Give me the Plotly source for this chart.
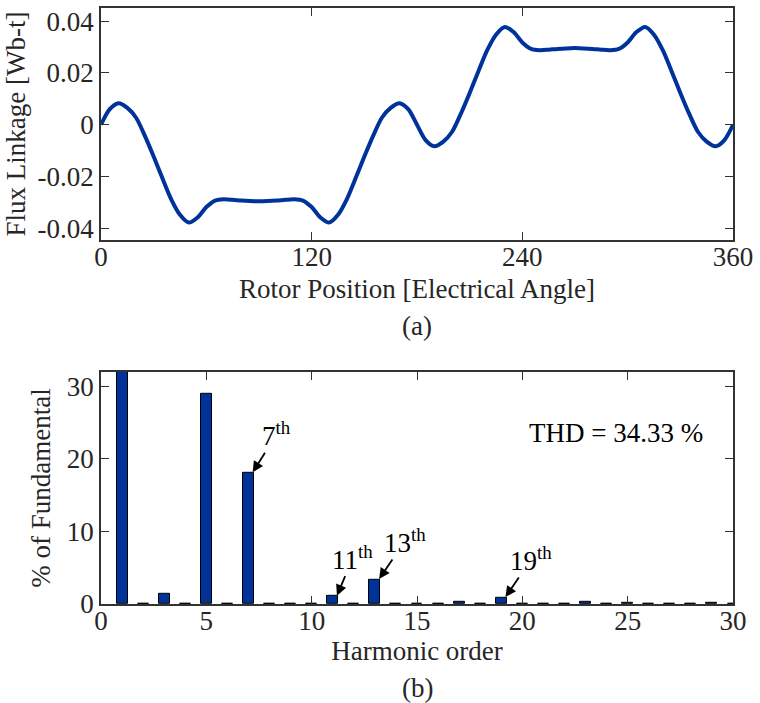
import plotly.graph_objects as go

# ---- (a) flux linkage vs rotor position ----
angle_deg = [0, 5, 10, 15, 20, 25, 30, 35, 40, 45, 50, 55, 60, 65, 70, 75, 80, 85, 90,
             95, 100, 105, 110, 115, 120, 125, 130, 135, 140, 145, 150, 155, 160, 165, 170, 175, 180,
             185, 190, 195, 200, 205, 210, 215, 220, 225, 230, 235, 240, 245, 250, 255, 260, 265, 270,
             275, 280, 285, 290, 295, 300, 305, 310, 315, 320, 325, 330, 335, 340, 345, 350, 355, 360]
flux_wb = [0.0, 0.0060, 0.0083, 0.0065, 0.0027, -0.0043, -0.0123, -0.0207, -0.0288, -0.0348,
           -0.0378, -0.0358, -0.0318, -0.0293, -0.0288, -0.0290, -0.0293, -0.0295, -0.0296,
           -0.0295, -0.0293, -0.0290, -0.0288, -0.0293, -0.0318, -0.0358, -0.0378, -0.0348,
           -0.0288, -0.0207, -0.0123, -0.0043, 0.0027, 0.0065, 0.0083, 0.0060, 0.0,
           -0.0060, -0.0083, -0.0065, -0.0027, 0.0043, 0.0123, 0.0207, 0.0288, 0.0348,
           0.0378, 0.0358, 0.0318, 0.0293, 0.0288, 0.0290, 0.0293, 0.0295, 0.0296,
           0.0295, 0.0293, 0.0290, 0.0288, 0.0293, 0.0318, 0.0358, 0.0378, 0.0348,
           0.0288, 0.0207, 0.0123, 0.0043, -0.0027, -0.0065, -0.0083, -0.0060, 0.0]
angle_ticks = [0, 120, 240, 360]
flux_ticks = [-0.04, -0.02, 0, 0.02, 0.04]
flux_tick_text = ["-0.04", "-0.02", "0", "0.02", "0.04"]

# ---- (b) harmonic spectrum ----
harmonic_order = list(range(1, 31))
percent_fundamental = [100, 0.03, 1.4, 0.03, 29.0, 0.03, 18.1, 0.03, 0.03, 0.03,
                       1.1, 0.03, 3.4, 0.03, 0.03, 0.03, 0.3, 0.03, 0.9, 0.03,
                       0.03, 0.03, 0.3, 0.03, 0.1, 0.03, 0.03, 0.03, 0.2, 0.03]
harmonic_ticks = [0, 5, 10, 15, 20, 25, 30]
percent_ticks = [0, 10, 20, 30]
thd_percent = 34.33
labelled_harmonics = [7, 11, 13, 19]

BLUE = "#00339a"
INK = "#262626"
FONT = "Times New Roman, Liberation Serif, serif"
FS = 27

fig = go.Figure()
fig.add_trace(go.Scatter(x=angle_deg, y=flux_wb, mode="lines",
                         line=dict(color=BLUE, width=4, shape="spline", smoothing=0.8),
                         xaxis="x", yaxis="y", showlegend=False))
fig.add_trace(go.Bar(x=harmonic_order, y=percent_fundamental, width=0.52,
                     marker=dict(color=BLUE, line=dict(color="black", width=1)),
                     xaxis="x2", yaxis="y2", showlegend=False))

axis_common = dict(showline=True, linecolor="#333333", linewidth=1.5, mirror="ticks",
                   ticks="inside", ticklen=8, tickwidth=1.2, tickcolor="#333333",
                   showgrid=False, zeroline=False,
                   tickfont=dict(family=FONT, size=FS, color=INK))

fig.update_layout(
    width=760, height=703,
    margin=dict(l=101, r=27, t=6, b=99),
    plot_bgcolor="white", paper_bgcolor="white",
    font=dict(family=FONT, size=FS, color=INK),
    xaxis=dict(domain=[0, 1], anchor="y", range=[0, 360], tickvals=angle_ticks,
               ticklabelstandoff=-8,
               title=dict(text="Rotor Position [Electrical Angle]", standoff=8,
                          font=dict(family=FONT, size=FS, color=INK)),
               **axis_common),
    yaxis=dict(domain=[0.6104, 1], anchor="x", range=[-0.0446, 0.0451],
               tickvals=flux_ticks, ticktext=flux_tick_text,
               title=dict(text="Flux Linkage [Wb-t]", standoff=4,
                          font=dict(family=FONT, size=FS, color=INK)),
               **axis_common),
    xaxis2=dict(domain=[0, 1], anchor="y2", range=[0, 30], tickvals=harmonic_ticks,
                ticklabelstandoff=-8,
                title=dict(text="Harmonic order", standoff=3,
                           font=dict(family=FONT, size=FS, color=INK)),
                **axis_common),
    yaxis2=dict(domain=[0, 0.3896], anchor="x2", range=[0, 32], tickvals=percent_ticks,
                title=dict(text="% of Fundamental", standoff=8,
                           font=dict(family=FONT, size=FS, color=INK)),
                **axis_common),
    bargap=0,
)

# panel captions
fig.add_annotation(text="(a)", xref="paper", yref="paper", x=0.5, y=0.4666,
                   xanchor="center", yanchor="middle",
                   showarrow=False, font=dict(family=FONT, size=FS, color=INK))
fig.add_annotation(text="(b)", xref="paper", yref="paper", x=0.5, y=-0.1405,
                   xanchor="center", yanchor="middle",
                   showarrow=False, font=dict(family=FONT, size=FS, color=INK))

# THD readout
fig.add_annotation(text=f"THD = {thd_percent:.2f} %", xref="x2", yref="y2", x=24.45, y=23.5,
                   showarrow=False, font=dict(family=FONT, size=FS, color="black"))

# arrows pointing at selected harmonics
arrow_offsets = {7: (24, -38), 11: (16, -38), 13: (26, -38), 19: (26, -38)}
for h in labelled_harmonics:
    val = percent_fundamental[harmonic_order.index(h)]
    ax, ay = arrow_offsets[h]
    fig.add_annotation(text=f"{h}<sup>th</sup>", xref="x2", yref="y2",
                       x=h + 0.2, y=val + 0.05, ax=ax, ay=ay,
                       showarrow=True, arrowhead=2, arrowsize=1.2, arrowwidth=1.8,
                       arrowcolor="black", standoff=0,
                       font=dict(family=FONT, size=FS, color="black"))

fig.write_html("out.html")
